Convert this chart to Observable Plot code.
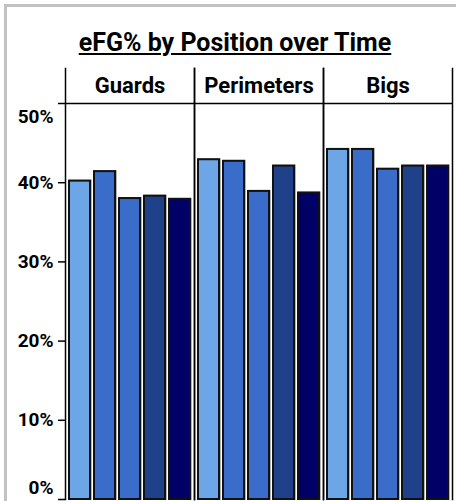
<!DOCTYPE html>
<html>
<head>
<meta charset="utf-8">
<script src="https://cdn.jsdelivr.net/npm/d3@7"></script>
<script src="https://cdn.jsdelivr.net/npm/@observablehq/plot@0.6"></script>
<style>
  html, body { margin: 0; padding: 0; background: #fff; overflow: hidden; width: 456px; height: 501px; }
  #box { position: absolute; left: 4px; top: 4px; width: 700px; height: 700px; border: 3px solid #c2c2c2; }
  #title { position: absolute; left: 7px; width: 456px; top: 30px; line-height: 25px; text-align: center;
           font-family: Roboto, sans-serif; font-weight: bold; font-size: 25px; color: #000; text-decoration: underline; }
  #chart { position: absolute; left: 0; top: 0; }
</style>
</head>
<body>
<div id="box"></div>
<div id="title">eFG% by Position over Time</div>
<div id="chart"></div>
<script>
const positions = ["Guards", "Perimeters", "Bigs"];
const periods = ["Era 1", "Era 2", "Era 3", "Era 4", "Era 5"];
const guards = [40.2, 41.4, 38.0, 38.3, 37.9];
const perimeters = [42.9, 42.7, 38.9, 42.1, 38.7];
const bigs = [44.2, 44.2, 41.7, 42.1, 42.1];
const colors = ["#6ca6e6", "#3a6cc9", "#3a6cc9", "#1f418a", "#000066"];
const yTicks = [0, 10, 20, 30, 40, 50];

const series = [guards, perimeters, bigs];
const data = positions.flatMap((p, i) => series[i].map((v, j) => ({position: p, period: periods[j], value: v})));
const fmt = d => d + "%";
const labelOpts = {fontSize: 19, fontWeight: "bold", fill: "#000", stroke: null, tickSize: 0, tickPadding: 12, tickFormat: fmt, label: null};

const chart = Plot.plot({
  width: 456,
  height: 520,
  marginTop: 68,
  marginBottom: 21,
  marginLeft: 64,
  marginRight: 4,
  style: {fontFamily: "Roboto, sans-serif", background: "transparent", overflow: "visible"},
  fx: {domain: positions, padding: 0, axis: null},
  x: {domain: periods, paddingInner: 0.18, paddingOuter: 0.11, axis: null},
  y: {domain: [0, 54.42], axis: null},
  color: {domain: periods, range: colors},
  marks: [
    Plot.barY(data, {fx: "position", x: "period", y: "value", fill: "period", stroke: "#b4b4b4", strokeWidth: 2, dx: 1}),
    Plot.barY(data, {fx: "position", x: "period", y: "value", fill: "period", stroke: "#111", strokeWidth: 2}),
    Plot.ruleY([50], {stroke: "#000", strokeWidth: 1.5}),
    Plot.frame({anchor: "left", stroke: "#000", strokeWidth: 1.5}),
    Plot.frame({anchor: "right", stroke: "#000", strokeWidth: 1.5}),
    Plot.text(positions, {fx: d => d, text: d => d, y: 52.2, fontSize: 22, fontWeight: "bold", fill: "#000"}),
    Plot.axisY({ticks: yTicks, tickSize: 7, text: null, stroke: "#000", strokeWidth: 1.5, label: null}),
    Plot.axisY({ticks: yTicks.filter(t => t > 0 && t < 50), ...labelOpts}),
    Plot.axisY({ticks: [50], ...labelOpts, dy: 13}),
    Plot.axisY({ticks: [0], ...labelOpts, dy: -12})
  ]
});
document.getElementById("chart").appendChild(chart);
</script>
</body>
</html>
